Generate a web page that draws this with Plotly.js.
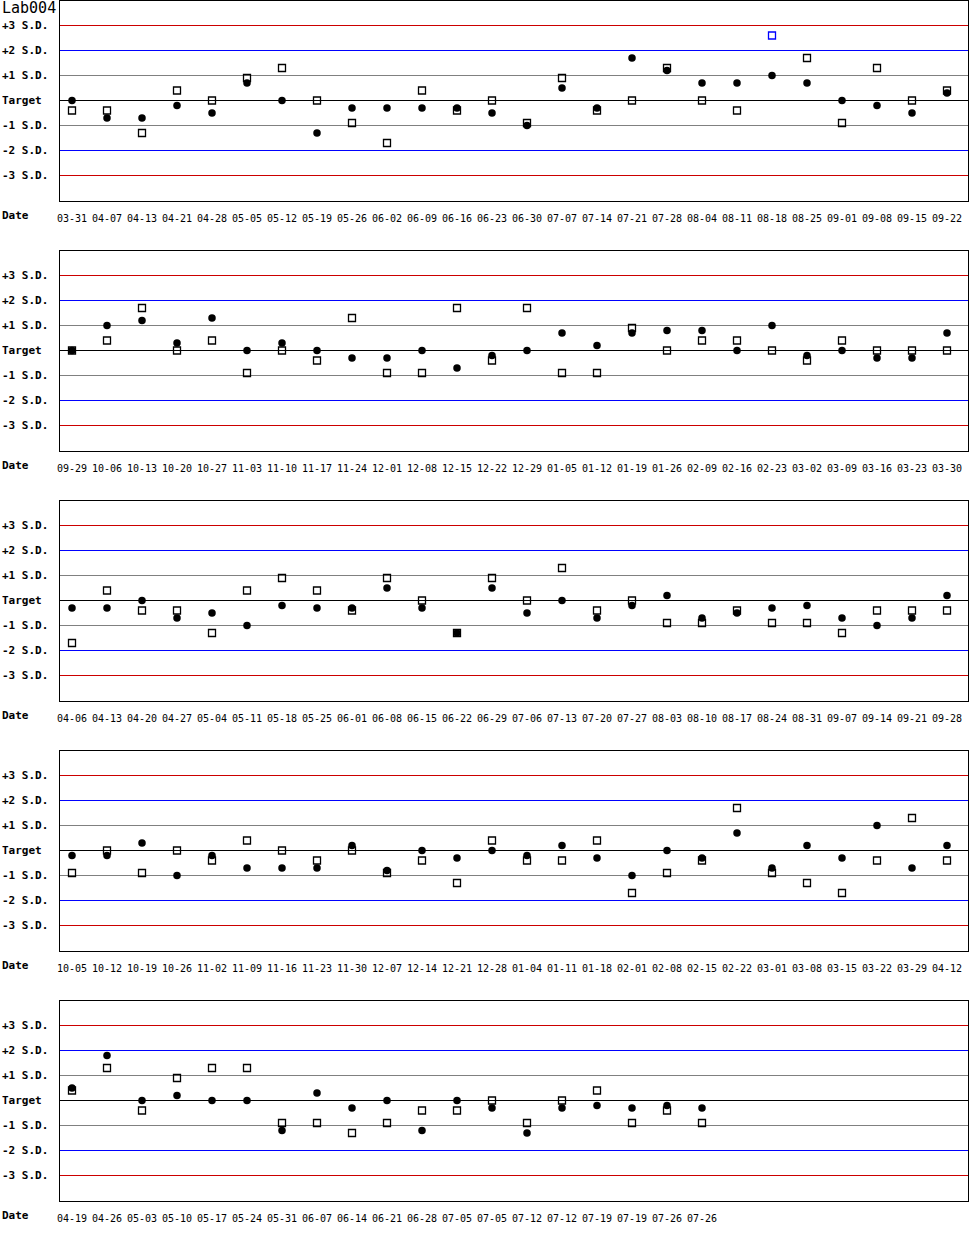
<!DOCTYPE html>
<html>
<head>
<meta charset="utf-8">
<script src="https://cdn.plot.ly/plotly-3.0.1.min.js"></script>
<style>
  body { margin: 0; background: #fff; }
  #qc { width: 970px; height: 1250px; }
  /* keep the 1px rules sharp like the original bitmap chart */
  #qc .shapelayer path, #qc .xlines-above, #qc .ylines-above { shape-rendering: crispEdges; }
</style>
</head>
<body>
<div id="qc"></div>
<script>
// chart values (units: S.D. from target)
var labName = 'Lab004';

var sdLevels = [3, 2, 1, 0, -1, -2, -3];
var sdLabels = ['+3 S.D.', '+2 S.D.', '+1 S.D.', 'Target', '-1 S.D.', '-2 S.D.', '-3 S.D.'];

var dates1 = ['03-31','04-07','04-13','04-21','04-28','05-05','05-12','05-19','05-26','06-02','06-09','06-16','06-23','06-30','07-07','07-14','07-21','07-28','08-04','08-11','08-18','08-25','09-01','09-08','09-15','09-22'];
var circ1 = [0,-0.7,-0.7,-0.2,-0.5,0.7,0,-1.3,-0.3,-0.3,-0.3,-0.3,-0.5,-1.0,0.5,-0.3,1.7,1.2,0.7,0.7,1.0,0.7,0,-0.2,-0.5,0.3];
var sq1 = [-0.4,-0.4,-1.3,0.4,0,0.9,1.3,0,-0.9,-1.7,0.4,-0.4,0,-0.9,0.9,-0.4,0,1.3,0,-0.4,2.6,1.7,-0.9,1.3,0,0.4];

var dates2 = ['09-29','10-06','10-13','10-20','10-27','11-03','11-10','11-17','11-24','12-01','12-08','12-15','12-22','12-29','01-05','01-12','01-19','01-26','02-09','02-16','02-23','03-02','03-09','03-16','03-23','03-30'];
var circ2 = [0,1.0,1.2,0.3,1.3,0,0.3,0,-0.3,-0.3,0,-0.7,-0.2,0,0.7,0.2,0.7,0.8,0.8,0,1.0,-0.2,0,-0.3,-0.3,0.7];
var sq2 = [0,0.4,1.7,0,0.4,-0.9,0,-0.4,1.3,-0.9,-0.9,1.7,-0.4,1.7,-0.9,-0.9,0.9,0,0.4,0.4,0,-0.4,0.4,0,0,0];

var dates3 = ['04-06','04-13','04-20','04-27','05-04','05-11','05-18','05-25','06-01','06-08','06-15','06-22','06-29','07-06','07-13','07-20','07-27','08-03','08-10','08-17','08-24','08-31','09-07','09-14','09-21','09-28'];
var circ3 = [-0.3,-0.3,0,-0.7,-0.5,-1.0,-0.2,-0.3,-0.3,0.5,-0.3,-1.3,0.5,-0.5,0,-0.7,-0.2,0.2,-0.7,-0.5,-0.3,-0.2,-0.7,-1.0,-0.7,0.2];
var sq3 = [-1.7,0.4,-0.4,-0.4,-1.3,0.4,0.9,0.4,-0.4,0.9,0,-1.3,0.9,0,1.3,-0.4,0,-0.9,-0.9,-0.4,-0.9,-0.9,-1.3,-0.4,-0.4,-0.4];

var dates4 = ['10-05','10-12','10-19','10-26','11-02','11-09','11-16','11-23','11-30','12-07','12-14','12-21','12-28','01-04','01-11','01-18','02-01','02-08','02-15','02-22','03-01','03-08','03-15','03-22','03-29','04-12'];
var circ4 = [-0.2,-0.2,0.3,-1.0,-0.2,-0.7,-0.7,-0.7,0.2,-0.8,0,-0.3,0,-0.2,0.2,-0.3,-1.0,0,-0.3,0.7,-0.7,0.2,-0.3,1.0,-0.7,0.2];
var sq4 = [-0.9,0,-0.9,0,-0.4,0.4,0,-0.4,0,-0.9,-0.4,-1.3,0.4,-0.4,-0.4,0.4,-1.7,-0.9,-0.4,1.7,-0.9,-1.3,-1.7,-0.4,1.3,-0.4];

var dates5 = ['04-19','04-26','05-03','05-10','05-17','05-24','05-31','06-07','06-14','06-21','06-28','07-05','07-05','07-12','07-12','07-19','07-19','07-26','07-26'];
var circ5 = [0.5,1.8,0,0.2,0,0,-1.2,0.3,-0.3,0,-1.2,0,-0.3,-1.3,-0.3,-0.2,-0.3,-0.2,-0.3];
var sq5 = [0.4,1.3,-0.4,0.9,1.3,1.3,-0.9,-0.9,-1.3,-0.9,-0.4,-0.4,0,-0.9,0,0.4,-0.9,-0.4,-0.9];

var panels = [
    {dates: dates1, circ: circ1, sq: sq1},
    {dates: dates2, circ: circ2, sq: sq2},
    {dates: dates3, circ: circ3, sq: sq3},
    {dates: dates4, circ: circ4, sq: sq4},
    {dates: dates5, circ: circ5, sq: sq5}
];

var lineColors = ['#cc0000', '#0000ff', '#808080', '#000000', '#808080', '#0000ff', '#cc0000'];
var mono = 'DejaVu Sans Mono, Liberation Mono, monospace';

function outColor(v) {
    // points beyond 2 S.D. are flagged in blue
    return Math.abs(v) > 2 ? '#0000ff' : '#000000';
}

function qcChart() {

    var W = 970, H = 1250;
    var plotLeft = 60, plotRight = 968;
    var panelStep = 250, panelH = 200;

    var traces = [];
    var layout = {
        width: W,
        height: H,
        margin: {l: 0, r: 0, t: 0, b: 0},
        paper_bgcolor: '#fff',
        plot_bgcolor: '#fff',
        showlegend: false,
        font: {family: mono, color: '#000', size: 10},
        shapes: [],
        annotations: []
    };

    panels.forEach(function (p, k) {
        var n = k + 1;
        var xa = 'x' + (n === 1 ? '' : n);
        var ya = 'y' + (n === 1 ? '' : n);
        var xi = p.dates.map(function (d, i) { return i; });

        var top = 1 - (k * panelStep + 0.5) / H;
        var bottom = top - panelH / H;

        // open squares first, dots drawn on top
        traces.push({
            x: xi, y: p.sq, xaxis: xa, yaxis: ya,
            type: 'scatter', mode: 'markers', cliponaxis: false,
            marker: {
                symbol: 'square-open', size: 7,
                color: p.sq.map(outColor),
                line: {width: 1.3}
            },
            hoverinfo: 'skip'
        });
        traces.push({
            x: xi, y: p.circ, xaxis: xa, yaxis: ya,
            type: 'scatter', mode: 'markers', cliponaxis: false,
            marker: {symbol: 'circle', size: 7.5, color: p.circ.map(outColor), line: {width: 0}},
            hoverinfo: 'skip'
        });

        layout['xaxis' + (n === 1 ? '' : n)] = {
            domain: [plotLeft / W, plotRight / W],
            anchor: ya,
            range: [-12 / 35, 25 + 21 / 35],
            tickmode: 'array',
            tickvals: xi,
            ticktext: p.dates,
            ticks: '',
            ticklabelstandoff: 8,
            tickfont: {family: mono, size: 10, color: '#000'},
            showgrid: false,
            zeroline: false,
            showline: true,
            mirror: true,
            linecolor: '#000',
            linewidth: 1,
            fixedrange: true
        };
        layout['yaxis' + (n === 1 ? '' : n)] = {
            domain: [bottom, top],
            anchor: xa,
            range: [-4, 4],
            showticklabels: false,
            ticks: '',
            showgrid: false,
            zeroline: false,
            showline: true,
            mirror: true,
            linecolor: '#000',
            linewidth: 1,
            fixedrange: true
        };

        sdLevels.forEach(function (lv, j) {
            layout.shapes.push({
                type: 'line', layer: 'below',
                xref: xa + ' domain', x0: 0, x1: 1,
                yref: ya, y0: lv, y1: lv,
                line: {color: lineColors[j], width: 1}
            });
            layout.annotations.push({
                xref: 'paper', x: 0, xanchor: 'left',
                yref: ya, y: lv, yanchor: 'middle',
                text: '<b>' + sdLabels[j] + '</b>',
                showarrow: false,
                font: {family: mono, size: 11, color: '#000'}
            });
        });

        layout.annotations.push({
            xref: 'paper', x: 0, xanchor: 'left',
            yref: ya + ' domain', y: 0, yanchor: 'middle', yshift: -15,
            text: '<b>Date</b>',
            showarrow: false,
            font: {family: mono, size: 11, color: '#000'}
        });
    });

    layout.annotations.push({
        xref: 'paper', x: 0, xanchor: 'left',
        yref: 'paper', y: 1, yanchor: 'top', yshift: 3,
        text: labName,
        showarrow: false,
        font: {family: mono, size: 15, color: '#000'}
    });

    Plotly.newPlot('qc', traces, layout, {staticPlot: true, displayModeBar: false});
}

qcChart();
</script>
</body>
</html>
